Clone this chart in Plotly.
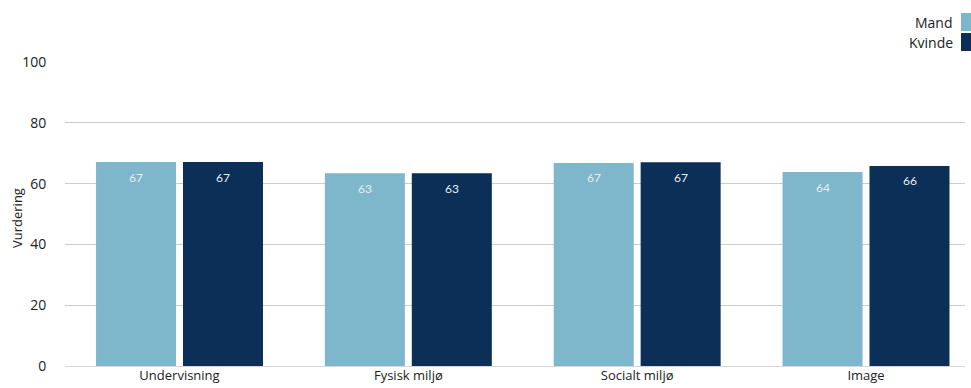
import plotly.graph_objects as go

CATEGORIES = ["Undervisning", "Fysisk miljø", "Socialt miljø", "Image"]
MAND = [67.1, 63.4, 66.8, 63.8]
KVINDE = [67.1, 63.4, 67.0, 65.8]
Y_TICKS = [0, 20, 40, 60, 80, 100]

COLORS = {"mand": "#7EB7CB", "kvinde": "#0B2F56", "grid": "#CCCCCC", "text": "#222222", "label": "#E6EEF4"}

# plot area in pixels
L, R, T, B = 65, 965, 62, 366


def px_x(x):
    return (x - L) / (R - L)


def px_y(y):
    return (B - y) / (B - T)


fig = go.Figure()
series = [("Mand", MAND, COLORS["mand"], -43.5), ("Kvinde", KVINDE, COLORS["kvinde"], 43.5)]
for name, values, color, shift in series:
    fig.add_trace(
        go.Bar(
            x=list(range(len(CATEGORIES))),
            y=values,
            name=name,
            marker={"color": color, "line": {"width": 0}},
            showlegend=False,
        )
    )
    # value labels just inside the top of each bar
    for i, v in enumerate(values):
        fig.add_annotation(
            x=i, y=v, xshift=shift, yshift=-15, text=f"{v:.0f}", showarrow=False,
            xanchor="center", yanchor="middle",
            font={"family": "Lato, sans-serif", "size": 12, "color": COLORS["label"]},
        )

# custom legend: text on the left, colour square on the right
for i, (name, color) in enumerate([("Mand", COLORS["mand"]), ("Kvinde", COLORS["kvinde"])]):
    top = 13 + i * 20
    fig.add_shape(type="rect", xref="paper", yref="paper", x0=px_x(961), x1=px_x(971),
                  y0=px_y(top + 18), y1=px_y(top), fillcolor=color, line={"width": 0})
    fig.add_annotation(xref="paper", yref="paper", x=px_x(955), y=px_y(top + 9.5),
                       text=name, showarrow=False, xanchor="right", yanchor="middle",
                       font={"family": "Open Sans, sans-serif", "size": 14, "color": COLORS["text"]})

# y axis title as a rotated annotation
fig.add_annotation(xref="paper", yref="paper", x=px_x(17), y=px_y(218), text="Vurdering",
                   textangle=-90, showarrow=False, xanchor="center", yanchor="middle",
                   font={"family": "Open Sans, sans-serif", "size": 13, "color": COLORS["text"]})

fig.update_layout(
    width=971,
    height=388,
    margin={"l": L, "r": 971 - R, "t": T, "b": 388 - B},
    paper_bgcolor="white",
    plot_bgcolor="white",
    barmode="group",
    bargap=0.24,
    bargroupgap=0.08,
    font={"family": "Open Sans, sans-serif", "color": COLORS["text"]},
)
fig.update_xaxes(
    tickmode="array",
    tickvals=list(range(len(CATEGORIES))),
    ticktext=CATEGORIES,
    range=[-0.5004, 3.4326],
    showgrid=False,
    showline=False,
    zeroline=False,
    tickfont={"family": "Open Sans, sans-serif", "size": 13},
    ticks="",
    automargin=False,
)
fig.update_yaxes(
    range=[0, 100],
    tickvals=Y_TICKS,
    gridcolor=COLORS["grid"],
    gridwidth=1,
    zeroline=True,
    zerolinecolor="#D6D6D6",
    zerolinewidth=1,
    tickfont={"family": "Open Sans, sans-serif", "size": 14},
    ticks="outside",
    ticklen=15,
    tickcolor="rgba(0,0,0,0)",
    automargin=False,
)

fig.write_html(
    "out.html",
    config={"displayModeBar": False},
    post_script="document.body.style.margin='0';",
)
